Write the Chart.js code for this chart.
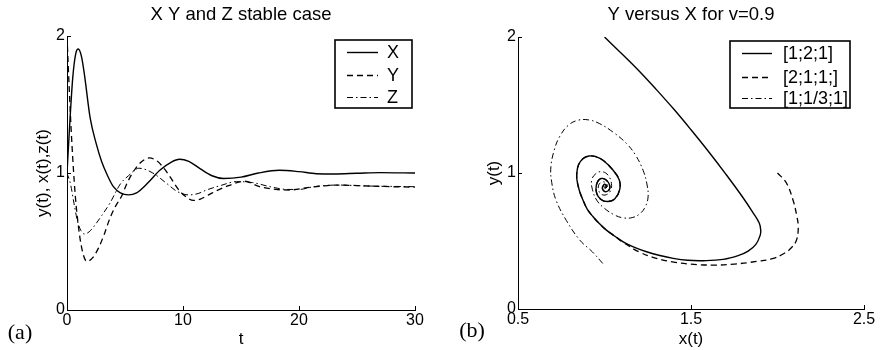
<!DOCTYPE html>
<html>
<head>
<meta charset="utf-8">
<script src="https://cdn.jsdelivr.net/npm/chart.js@4.4.1/dist/chart.umd.min.js"></script>
<style>
  html, body { margin: 0; padding: 0; background: #fff; }
  #wrap { position: relative; width: 880px; height: 350px; }
  canvas { position: absolute; top: 0; }
  #panelA { left: 0; }
  #panelB { left: 440px; }
</style>
</head>
<body>
<div id="wrap">
  <canvas id="panelA" width="440" height="350"></canvas>
  <canvas id="panelB" width="440" height="350"></canvas>
</div>
<script>
// ---- Panel (a): time series of X, Y, Z ----
const tX = [0, 0.25, 0.5, 0.75, 0.97, 1.25, 1.5, 2.0, 2.5, 3.0, 3.5, 4.0, 4.6, 5.3, 6.0, 7.0, 8.0, 9.0, 9.7, 10.5, 11.5, 12.5, 13.5, 15, 16.5, 18.3, 20, 21.5, 23, 25, 27, 30];
const valuesX = [1.0, 1.38, 1.7, 1.87, 1.905, 1.85, 1.72, 1.40, 1.22, 1.08, 0.98, 0.90, 0.855, 0.84, 0.855, 0.93, 1.02, 1.08, 1.10, 1.085, 1.03, 0.98, 0.96, 0.97, 1.0, 1.02, 1.01, 0.995, 0.993, 0.998, 1.003, 1.0];

const tY = [0, 0.2, 0.4, 0.7, 1.0, 1.3, 1.7, 2.2, 2.7, 3.2, 3.7, 4.2, 4.7, 5.2, 5.8, 6.4, 7.1, 7.8, 8.4, 8.9, 9.6, 10.2, 10.9, 11.5, 12.2, 13, 14, 15.3, 16.6, 18, 19.2, 20.7, 22, 23.3, 26, 28, 30];
const valuesY = [2.0, 1.6, 1.25, 0.85, 0.6, 0.44, 0.355, 0.38, 0.45, 0.55, 0.67, 0.76, 0.83, 0.93, 1.02, 1.08, 1.11, 1.085, 1.03, 0.97, 0.88, 0.83, 0.80, 0.81, 0.84, 0.875, 0.91, 0.94, 0.90, 0.88, 0.876, 0.893, 0.905, 0.912, 0.905, 0.90, 0.897];

const tZ = [0, 0.3, 0.6, 0.9, 1.2, 1.5, 1.9, 2.5, 3.0, 3.7, 4.6, 5.3, 6.2, 7.4, 8.5, 9.5, 10.5, 11.3, 12, 13.3, 14.6, 16, 17.5, 19, 20, 21.3, 23.3, 26, 30];
const valuesZ = [1.0, 0.92, 0.78, 0.65, 0.58, 0.555, 0.57, 0.63, 0.69, 0.78, 0.92, 0.98, 1.035, 1.0, 0.93, 0.865, 0.84, 0.85, 0.875, 0.91, 0.937, 0.93, 0.90, 0.88, 0.88, 0.90, 0.912, 0.905, 0.90];

const ticksTime = [0, 10, 20, 30];
const ticksLevel = [0, 1, 2];

// ---- Panel (b): phase portrait y(t) against x(t) ----
const phaseX1 = [1.0, 1.1, 1.2, 1.3, 1.4, 1.5, 1.6, 1.7, 1.8, 1.86, 1.895, 1.903, 1.9, 1.875, 1.83, 1.78, 1.686, 1.57, 1.48, 1.397, 1.32, 1.243, 1.17, 1.108, 1.06, 1.011, 0.97, 0.934, 0.90, 0.876, 0.855, 0.841, 0.84, 0.85, 0.875, 0.91, 0.95, 0.995, 1.05, 1.085, 1.088, 1.06, 1.02, 0.98, 0.955, 0.955, 0.982, 1.02, 1.03, 1.007, 0.988, 1.0, 1.013, 1.0];
const phaseY1 = [2.0, 1.877, 1.75, 1.613, 1.47, 1.318, 1.16, 0.994, 0.82, 0.705, 0.63, 0.58, 0.543, 0.475, 0.425, 0.396, 0.365, 0.355, 0.358, 0.372, 0.393, 0.421, 0.455, 0.494, 0.535, 0.58, 0.628, 0.678, 0.735, 0.80, 0.87, 0.947, 1.0, 1.06, 1.105, 1.125, 1.12, 1.09, 1.02, 0.95, 0.88, 0.81, 0.79, 0.805, 0.85, 0.92, 0.96, 0.935, 0.886, 0.862, 0.886, 0.918, 0.9, 0.895];

const phaseX2 = [2.0, 2.05, 2.09, 2.112, 2.12, 2.11, 2.08, 2.04, 1.97, 1.88, 1.75, 1.63, 1.5, 1.4, 1.3, 1.2, 1.108, 1.06, 1.011, 0.97, 0.934, 0.90, 0.876, 0.855, 0.841, 0.84, 0.85, 0.875, 0.91, 0.95, 0.995, 1.05, 1.085, 1.088, 1.06, 1.02, 0.98, 0.955, 0.955, 0.982, 1.02, 1.03, 1.007, 0.988, 1.0, 1.013, 1.0];
const phaseY2 = [1.0, 0.93, 0.80, 0.68, 0.60, 0.507, 0.45, 0.41, 0.37, 0.35, 0.33, 0.323, 0.33, 0.345, 0.372, 0.42, 0.49, 0.535, 0.58, 0.628, 0.678, 0.735, 0.80, 0.87, 0.947, 1.0, 1.06, 1.105, 1.125, 1.12, 1.09, 1.02, 0.95, 0.88, 0.81, 0.79, 0.805, 0.85, 0.92, 0.96, 0.935, 0.886, 0.862, 0.886, 0.918, 0.9, 0.895];

const phaseX3 = [0.99, 0.93, 0.857, 0.78, 0.72, 0.695, 0.69, 0.71, 0.74, 0.79, 0.847, 0.91, 0.97, 1.05, 1.127, 1.18, 1.223, 1.245, 1.252, 1.235, 1.204, 1.16, 1.11, 1.06, 1.0, 0.955, 0.93, 0.926, 0.95, 0.984, 1.02, 1.04, 1.035, 1.01, 0.98, 0.965, 0.97, 0.995, 1.015, 1.01, 0.995, 0.992, 1.0];
const phaseY3 = [0.335, 0.42, 0.507, 0.65, 0.80, 0.93, 1.045, 1.17, 1.266, 1.35, 1.388, 1.39, 1.364, 1.30, 1.217, 1.13, 1.02, 0.92, 0.825, 0.75, 0.70, 0.672, 0.67, 0.69, 0.74, 0.80, 0.88, 0.949, 0.995, 1.01, 0.985, 0.924, 0.87, 0.84, 0.845, 0.88, 0.92, 0.935, 0.915, 0.89, 0.885, 0.9, 0.905];

const ticksPhaseX = [0.5, 1.5, 2.5];

const labelsA = ['X', 'Y', 'Z'];
const labelsB = ['[1;2;1]', '[2;1;1;]', '[1;1/3;1]'];

// ---- shared styling ----
const SANS = '"Liberation Sans", Arial, Helvetica, sans-serif';
Chart.defaults.font.family = SANS;
Chart.defaults.color = '#000';

const lineStyles = [
  { borderWidth: 1.4, borderDash: [] },
  { borderWidth: 1.3, borderDash: [6, 4] },
  { borderWidth: 1.0, borderDash: [6, 3, 1.5, 3] }
];

const pairs = (xs, ys) => xs.map((x, i) => ({ x, y: ys[i] }));

function makeDataset(label, xs, ys, k, monotone) {
  return Object.assign({
    label,
    data: pairs(xs, ys),
    borderColor: '#000',
    backgroundColor: '#000',
    pointRadius: 0,
    showLine: true,
    fill: false,
    tension: 0.4,
    cubicInterpolationMode: monotone ? 'monotone' : 'default'
  }, lineStyles[k]);
}

// inward tick marks on the two drawn axes
const innerTicks = {
  id: 'innerTicks',
  afterDatasetsDraw(chart) {
    const { ctx, chartArea, scales } = chart;
    ctx.save();
    ctx.strokeStyle = '#000';
    ctx.lineWidth = 1;
    ctx.setLineDash([]);
    scales.x.ticks.forEach(t => {
      const px = Math.round(scales.x.getPixelForValue(t.value)) + 0.5;
      ctx.beginPath();
      ctx.moveTo(px, chartArea.bottom);
      ctx.lineTo(px, chartArea.bottom - 4);
      ctx.stroke();
    });
    scales.y.ticks.forEach(t => {
      const py = Math.round(scales.y.getPixelForValue(t.value)) + 0.5;
      ctx.beginPath();
      ctx.moveTo(chartArea.left, py);
      ctx.lineTo(chartArea.left + 4, py);
      ctx.stroke();
    });
    ctx.restore();
  }
};

// boxed legend inside the plot, built from the datasets' own styles
const boxLegend = {
  id: 'boxLegend',
  afterDraw(chart, args, opts) {
    const { ctx } = chart;
    const [x0, y0, x1, y1] = opts.box;
    ctx.save();
    ctx.fillStyle = '#fff';
    ctx.fillRect(x0, y0, x1 - x0, y1 - y0);
    ctx.strokeStyle = '#000';
    ctx.lineWidth = 1.6;
    ctx.setLineDash([]);
    ctx.strokeRect(x0, y0, x1 - x0, y1 - y0);
    ctx.font = opts.fontSize + 'px ' + SANS;
    ctx.textBaseline = 'middle';
    ctx.textAlign = 'left';
    ctx.fillStyle = '#000';
    chart.data.datasets.forEach((ds, i) => {
      const y = opts.rows[i];
      ctx.lineWidth = ds.borderWidth;
      ctx.setLineDash(ds.borderDash || []);
      ctx.beginPath();
      ctx.moveTo(opts.line[0], y + 0.5);
      ctx.lineTo(opts.line[1], y + 0.5);
      ctx.stroke();
      ctx.setLineDash([]);
      ctx.fillText(ds.label, opts.textX, y + 1);
    });
    ctx.restore();
  }
};

// panel letter in the lower-left corner
const panelTag = {
  id: 'panelTag',
  afterDraw(chart, args, opts) {
    const { ctx } = chart;
    ctx.save();
    ctx.font = opts.size + 'px "Liberation Serif", "DejaVu Serif", serif';
    ctx.fillStyle = '#000';
    ctx.textAlign = 'center';
    ctx.textBaseline = 'middle';
    ctx.fillText(opts.text, opts.x, opts.y);
    ctx.restore();
  }
};

function axisCommon(extra) {
  return Object.assign({
    type: 'linear',
    grid: { display: false, drawTicks: false },
    border: { display: true, color: '#000', width: 1 },
  }, extra);
}

function buildOptions(cfg) {
  return {
    responsive: false,
    animation: false,
    events: [],
    layout: { padding: { left: 0, right: cfg.padRight, top: 0, bottom: 0 } },
    plugins: {
      legend: { display: false },
      tooltip: { enabled: false },
      title: {
        display: true, text: cfg.title, color: '#000', fullSize: false,
        font: { size: 18.5, weight: 'normal' },
        padding: { top: 4, bottom: cfg.titleGap }
      },
      boxLegend: cfg.legend,
      panelTag: cfg.tag
    },
    scales: {
      x: axisCommon({
        position: 'bottom',
        min: cfg.xTicks[0], max: cfg.xTicks[cfg.xTicks.length - 1],
        afterBuildTicks: s => { s.ticks = cfg.xTicks.map(v => ({ value: v })); },
        ticks: { color: '#000', font: { size: 16 }, padding: 1, maxRotation: 0 },
        title: { display: true, text: cfg.xTitle, color: '#000', font: { size: 17 }, padding: { top: 0, bottom: 0 } },
        afterFit: s => { s.height = cfg.xHeight; }
      }),
      y: axisCommon({
        position: 'left',
        min: 0, max: 2,
        afterBuildTicks: s => { s.ticks = ticksLevel.map(v => ({ value: v })); },
        ticks: { color: '#000', font: { size: 16 }, padding: 2 },
        title: { display: true, text: cfg.yTitle, color: '#000', font: { size: 17 }, padding: { top: cfg.yTitlePad, bottom: 0 } },
        afterFit: s => { s.width = cfg.yWidth; }
      })
    }
  };
}

new Chart(document.getElementById('panelA'), {
  type: 'scatter',
  data: {
    datasets: [
      makeDataset(labelsA[0], tX, valuesX, 0, true),
      makeDataset(labelsA[1], tY, valuesY, 1, true),
      makeDataset(labelsA[2], tZ, valuesZ, 2, true)
    ]
  },
  options: buildOptions({
    title: 'X Y and Z stable case',
    titleGap: 9.8,
    padRight: 25,
    xTicks: ticksTime,
    xTitle: 't',
    yTitle: 'y(t), x(t),z(t)',
    yTitlePad: 33,
    yWidth: 67,
    xHeight: 40,
    legend: { box: [335, 40, 412, 108], rows: [52, 75, 97], line: [347, 378], textX: 387, fontSize: 18 },
    tag: { text: '(a)', x: 20, y: 333, size: 22 }
  }),
  plugins: [innerTicks, boxLegend, panelTag]
});

new Chart(document.getElementById('panelB'), {
  type: 'scatter',
  data: {
    datasets: [
      makeDataset(labelsB[0], phaseX1, phaseY1, 0, false),
      makeDataset(labelsB[1], phaseX2, phaseY2, 1, false),
      makeDataset(labelsB[2], phaseX3, phaseY3, 2, false)
    ]
  },
  options: buildOptions({
    title: 'Y versus X for v=0.9',
    titleGap: 10.8,
    padRight: 16,
    xTicks: ticksPhaseX,
    xTitle: 'x(t)',
    yTitle: 'y(t)',
    yTitlePad: 44,
    yWidth: 78,
    xHeight: 41,
    legend: { box: [290, 41, 410, 108], rows: [53, 77, 98], line: [302, 332], textX: 343, fontSize: 18 },
    tag: { text: '(b)', x: 32, y: 331, size: 22 }
  }),
  plugins: [innerTicks, boxLegend, panelTag]
});
</script>
</body>
</html>
